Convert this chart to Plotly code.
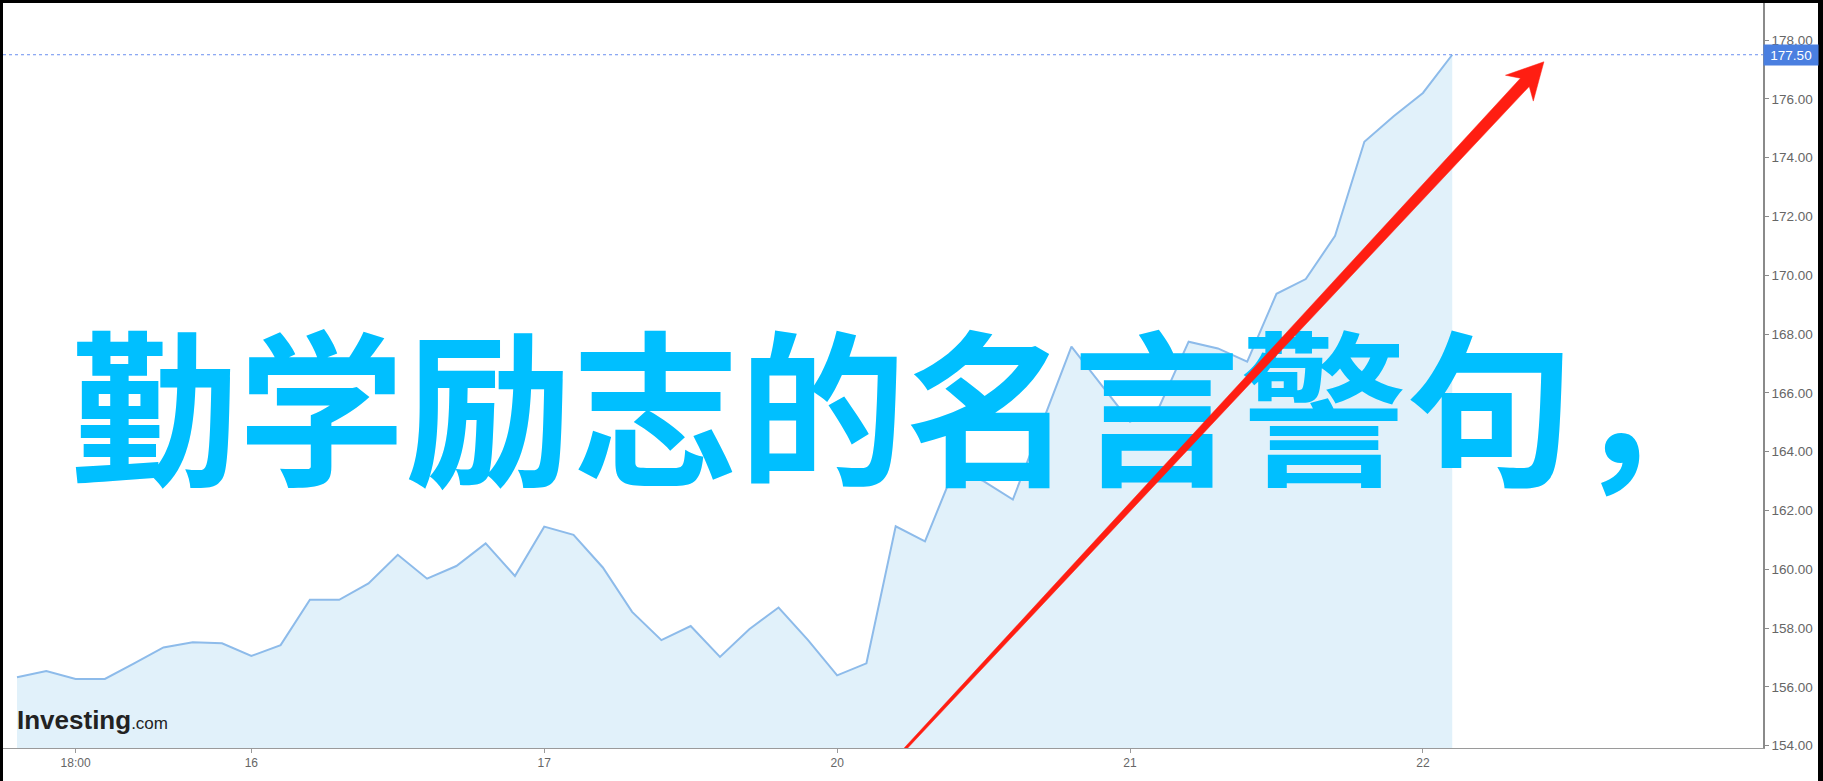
import numpy as np
import plotly.graph_objects as go

# ---------------- data ----------------
prices = [156.33, 156.54, 156.27, 156.27, 156.80, 157.34, 157.52, 157.48, 157.05, 157.42,
          158.96, 158.96, 159.52, 160.49, 159.68, 160.11, 160.88, 159.77, 161.45, 161.17,
          160.06, 158.55, 157.59, 158.07, 157.02, 157.96, 158.70, 157.60, 156.39, 156.80,
          161.46, 160.95, 163.40, 163.00, 162.37, 165.00, 167.57, 166.30, 165.02, 165.53,
          167.74, 167.51, 167.06, 169.37, 169.87, 171.34, 174.54, 175.41, 176.20, 177.50]
bar_index = list(range(len(prices)))

x_tick_pos = [2, 8, 18, 28, 38, 48]
x_tick_text = ["18:00", "16", "17", "20", "21", "22"]
y_tick_vals = [154, 156, 158, 160, 162, 164, 166, 168, 170, 172, 174, 176, 178]

last_price = 177.50
title_text = "勤学励志的名言警句，"
logo_main = "Investing"
logo_tail = ".com"

# ---------------- geometry ----------------
W, H = 1823, 781
M_L, M_R, M_T, M_B = 3, 60, 3, 33
X_RANGE = [-0.478, 59.61]
Y_RANGE = [153.92, 179.26]
plot_w = W - M_L - M_R
plot_h = H - M_T - M_B
px_per_x = plot_w / (X_RANGE[1] - X_RANGE[0])
px_per_y = plot_h / (Y_RANGE[1] - Y_RANGE[0])

fig = go.Figure()

# area line
fig.add_trace(go.Scatter(
    x=bar_index, y=prices, mode="lines",
    line=dict(color="#8dbbea", width=2),
    fill="tozeroy", fillcolor="#e1f1fa",
    hoverinfo="skip", showlegend=False,
))

# big overlay text
fig.add_trace(go.Scatter(
    x=[30.35], y=[164.68], mode="text", text=[title_text],
    textposition="middle center",
    textfont=dict(family="Noto Sans CJK SC", size=167, color="#00bfff", weight="bold"),
    hoverinfo="skip", showlegend=False, cliponaxis=False,
))

# red tapered arrow (drawn in pixel space then mapped to data units)
tail = np.array([29.49, 153.0])
tip = np.array([52.13, 177.26])
tail_px = np.array([tail[0] * px_per_x, tail[1] * px_per_y])
tip_px = np.array([tip[0] * px_per_x, tip[1] * px_per_y])
d = tip_px - tail_px
L = np.linalg.norm(d)
u = d / L
n = np.array([-u[1], u[0]])
head_len, head_half, w_tail, w_head = 36.0, 19.0, 1.1, 6.0
base = tip_px - u * head_len
notch = tip_px - u * (head_len - 8)
pts = [
    tail_px + n * w_tail,
    notch + n * w_head,
    base + n * head_half,
    tip_px,
    base - n * head_half,
    notch - n * w_head,
    tail_px - n * w_tail,
]
ax = [p[0] / px_per_x for p in pts] + [pts[0][0] / px_per_x]
ay = [p[1] / px_per_y for p in pts] + [pts[0][1] / px_per_y]
fig.add_trace(go.Scatter(
    x=ax, y=ay, mode="lines", fill="toself",
    fillcolor="#ff1e12", line=dict(color="#ff1e12", width=0.5),
    hoverinfo="skip", showlegend=False,
))

# dotted last-price line
fig.add_shape(type="line", xref="paper", yref="y", x0=0, x1=1,
              y0=last_price, y1=last_price,
              line=dict(color="#6a8ff0", width=1, dash="dot"), layer="above")

# last-price label
fig.add_annotation(
    xref="paper", yref="y", x=1, y=last_price, xanchor="left", yanchor="middle",
    text=f"{last_price:.2f}", showarrow=False,
    font=dict(family="Liberation Sans, Arial", size=13.5, color="white"),
    bgcolor="#4a7fe0", width=52, height=18, borderpad=1,
)

# logo
fig.add_annotation(
    xref="paper", yref="paper", x=(15 - M_L) / plot_w, y=(H - M_B - 720) / plot_h,
    xanchor="left", yanchor="middle", showarrow=False,
    text=f"<b>{logo_main}</b><span style='font-size:17px'>{logo_tail}</span>",
    font=dict(family="Liberation Sans, Arial", size=26, color="#222222"),
)

# black frame (screenshot border)
def pxbox(x0, y0, x1, y1):
    return dict(type="rect", xref="paper", yref="paper",
                x0=(x0 - M_L) / plot_w, x1=(x1 - M_L) / plot_w,
                y0=(H - M_B - y1) / plot_h, y1=(H - M_B - y0) / plot_h,
                fillcolor="black", line=dict(width=0), layer="above")

for b in [pxbox(0, 0, W, 3), pxbox(0, 0, 3, H), pxbox(1818, 0, W, H)]:
    fig.add_shape(**b)

fig.update_layout(
    width=W, height=H,
    margin=dict(l=M_L, r=M_R, t=M_T, b=M_B, pad=0),
    paper_bgcolor="white", plot_bgcolor="white",
    showlegend=False,
    xaxis=dict(range=X_RANGE, tickvals=x_tick_pos, ticktext=x_tick_text,
               showgrid=False, zeroline=False, showline=True, linecolor="#9a9a9a",
               linewidth=1, ticks="outside", ticklen=4, tickcolor="#9a9a9a",
               tickfont=dict(family="Liberation Sans, Arial", size=12, color="#666666"),
               fixedrange=True),
    yaxis=dict(range=Y_RANGE, side="right", tickvals=y_tick_vals, tickformat=".2f",
               showgrid=False, zeroline=False, showline=True, linecolor="#8a8a8a",
               linewidth=1.5, ticks="outside", ticklen=4, tickcolor="#8a8a8a",
               tickfont=dict(family="Liberation Sans, Arial", size=13.5, color="#666666"),
               fixedrange=True),
)

fig.write_html("out.html", config={"displayModeBar": False},
               post_script="document.body.style.margin='0';document.body.style.overflow='hidden';")
